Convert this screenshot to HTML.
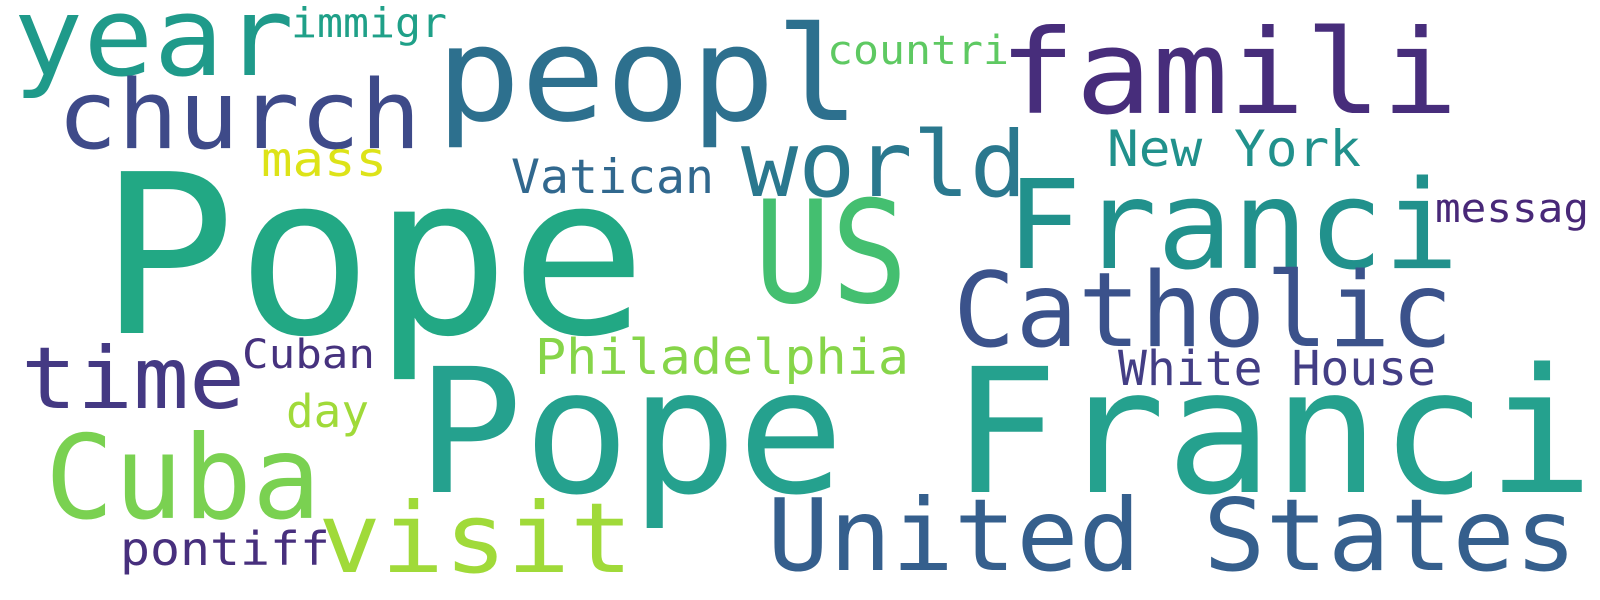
<!DOCTYPE html>
<html><head><meta charset="utf-8"><style>
html,body{margin:0;padding:0;background:#fff;}
svg{display:block;}
text{font-family:"DejaVu Sans Mono","Liberation Mono",monospace;}
</style></head><body>
<svg width="1600" height="600" viewBox="0 0 1600 600">
<rect width="1600" height="600" fill="#fff"/>
<text x="99" y="333" font-size="222" textLength="548" lengthAdjust="spacingAndGlyphs" fill="#22a884">Pope</text>
<text x="416" y="492" font-size="173" textLength="1178" lengthAdjust="spacingAndGlyphs" fill="#25a18e">Pope Franci</text>
<text x="13" y="75" font-size="110" textLength="281" lengthAdjust="spacingAndGlyphs" fill="#1f9a8a">year</text>
<text x="291" y="37" font-size="41" textLength="156" lengthAdjust="spacingAndGlyphs" fill="#1fa088">immigr</text>
<text x="436" y="120" font-size="131" textLength="424" lengthAdjust="spacingAndGlyphs" fill="#2d708e">peopl</text>
<text x="999" y="113" font-size="117" textLength="459" lengthAdjust="spacingAndGlyphs" fill="#472d7b">famili</text>
<text x="827" y="64" font-size="40" textLength="182" lengthAdjust="spacingAndGlyphs" fill="#5ec962">countri</text>
<text x="57" y="148" font-size="95" textLength="364" lengthAdjust="spacingAndGlyphs" fill="#3e4a89">church</text>
<text x="741" y="196" font-size="91" textLength="286" lengthAdjust="spacingAndGlyphs" fill="#2a788e">world</text>
<text x="1107" y="166" font-size="50" textLength="254" lengthAdjust="spacingAndGlyphs" fill="#21918c">New York</text>
<text x="261" y="176" font-size="48" textLength="126" lengthAdjust="spacingAndGlyphs" fill="#dde318">mass</text>
<text x="511" y="193" font-size="47" textLength="203" lengthAdjust="spacingAndGlyphs" fill="#31688e">Vatican</text>
<text x="1006" y="268" font-size="123" textLength="453" lengthAdjust="spacingAndGlyphs" fill="#21918c">Franci</text>
<text x="754" y="302" font-size="142" textLength="154" lengthAdjust="spacingAndGlyphs" fill="#44bf70">US</text>
<text x="1435" y="222" font-size="40" textLength="154" lengthAdjust="spacingAndGlyphs" fill="#482878">messag</text>
<text x="953" y="346" font-size="103" textLength="500" lengthAdjust="spacingAndGlyphs" fill="#3b528b">Catholic</text>
<text x="21" y="408" font-size="86" textLength="224" lengthAdjust="spacingAndGlyphs" fill="#443983">time</text>
<text x="242" y="368" font-size="40" textLength="133" lengthAdjust="spacingAndGlyphs" fill="#46327e">Cuban</text>
<text x="535" y="374" font-size="49" textLength="374" lengthAdjust="spacingAndGlyphs" fill="#86d549">Philadelphia</text>
<text x="1118" y="385" font-size="48" textLength="318" lengthAdjust="spacingAndGlyphs" fill="#433e85">White House</text>
<text x="286" y="427" font-size="45" textLength="83" lengthAdjust="spacingAndGlyphs" fill="#a0da39">day</text>
<text x="45" y="518" font-size="116" textLength="276" lengthAdjust="spacingAndGlyphs" fill="#7ad151">Cuba</text>
<text x="120" y="565" font-size="46" textLength="210" lengthAdjust="spacingAndGlyphs" fill="#472f7d">pontiff</text>
<text x="318" y="572" font-size="97" textLength="315" lengthAdjust="spacingAndGlyphs" fill="#a0da39">visit</text>
<text x="767" y="570" font-size="100" textLength="810" lengthAdjust="spacingAndGlyphs" fill="#355f8d">United States</text>
</svg>
</body></html>
